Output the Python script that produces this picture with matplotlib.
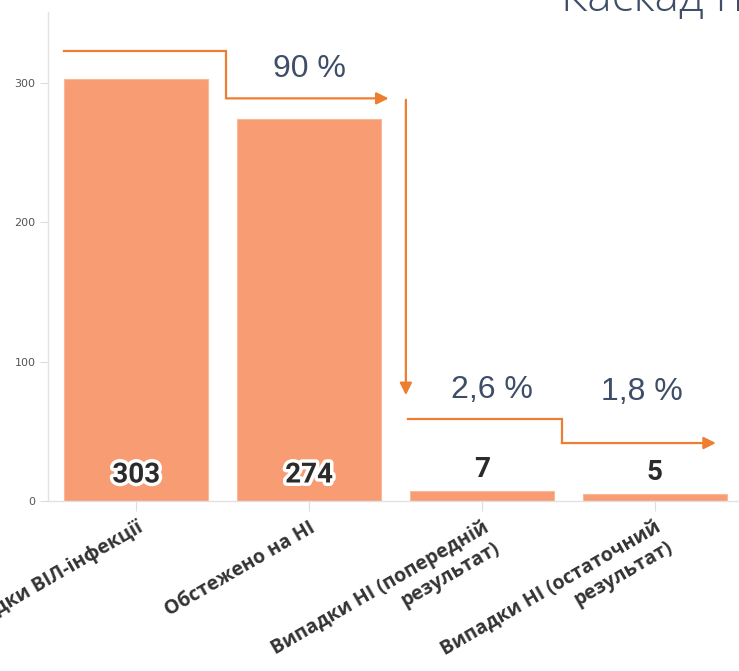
import matplotlib

matplotlib.use("Agg")
import matplotlib.pyplot as plt
import matplotlib.patheffects as pe

categories = [
    "Випадки ВІЛ-інфекції",
    "Обстежено на НІ",
    "Випадки НІ (попередній\nрезультат)",
    "Випадки НІ (остаточний\nрезультат)",
]
values = [303, 274, 7, 5]
pct_labels = ["90 %", "2,6 %", "1,8 %"]
y_ticks = [0, 100, 200, 300]

BAR = "#f89c74"
ARROW = "#ed7d31"
SLATE = "#3e4e68"

fig = plt.figure(figsize=(7.39, 6.71), dpi=100)
ax = fig.add_axes([48 / 739, 170 / 671, 695 / 739, 489 / 671])

x = list(range(len(categories)))
ax.bar(x, values, width=0.83, color=BAR, edgecolor="#fbb898", linewidth=0.8)

ax.set_xlim(-0.51, 3.51)
ax.set_ylim(0, 351)
ax.set_yticks(y_ticks)
ax.set_yticklabels([str(t) for t in y_ticks], fontsize=8, color="#555555")
ax.set_xticks(x)
ax.set_xticklabels(categories, rotation=30, ha="right", va="top",
                   rotation_mode="anchor", fontsize=14, fontweight="bold",
                   color="#333333", family="Open Sans", multialignment="right")
ax.tick_params(axis="y", length=6, width=0.8, color="#dddddd", pad=3)
ax.tick_params(axis="x", length=7, width=0.8, color="#dddddd", pad=5)

for side in ("top", "right"):
    ax.spines[side].set_visible(False)
for side in ("left", "bottom"):
    ax.spines[side].set_color("#e2e2e2")
    ax.spines[side].set_linewidth(1)

# value labels: inside the base for tall bars, just above for short ones
for xi, v in zip(x, values):
    if v > 50:
        ax.annotate(str(v), (xi, 0), xytext=(0, 9), textcoords="offset points",
                    ha="center", va="bottom", fontsize=20, fontweight="bold",
                    family="Roboto", color="#2b2b2b",
                    path_effects=[pe.withStroke(linewidth=5, foreground="white")])
    else:
        ax.annotate(str(v), (xi, v), xytext=(0, 6), textcoords="offset points",
                    ha="center", va="bottom", fontsize=20, fontweight="bold",
                    family="Roboto", color="#2b2b2b")

# cascade arrows
def elbow(points):
    xs = [p[0] for p in points]
    ys = [p[1] for p in points]
    ax.plot(xs[:-1], ys[:-1], color=ARROW, lw=1.6, clip_on=False,
            solid_joinstyle="miter")
    ax.annotate("", xy=points[-1], xytext=points[-2],
                arrowprops=dict(arrowstyle="-|>", color=ARROW, lw=1.6,
                                mutation_scale=18, shrinkA=0, shrinkB=0),
                annotation_clip=False)

elbow([(-0.415, 323), (0.52, 323), (0.52, 289), (1.46, 289)])
elbow([(1.56, 288), (1.56, 76)])
elbow([(1.572, 59), (2.462, 59), (2.462, 41.6), (3.353, 41.6)])

ax.text(1.0, 310, pct_labels[0], ha="center", va="center", fontsize=23,
        color=SLATE, family="Liberation Sans")
ax.text(2.06, 80, pct_labels[1], ha="center", va="center", fontsize=23,
        color=SLATE, family="Liberation Sans")
ax.text(2.925, 78, pct_labels[2], ha="center", va="center", fontsize=23,
        color=SLATE, family="Liberation Sans")

fig.text(561 / 739, 1 - 10 / 671, "Каскад п", ha="left", va="baseline",
         fontsize=33, color=SLATE, family="Open Sans", fontweight="light")

fig.savefig("out.png", dpi=100)
